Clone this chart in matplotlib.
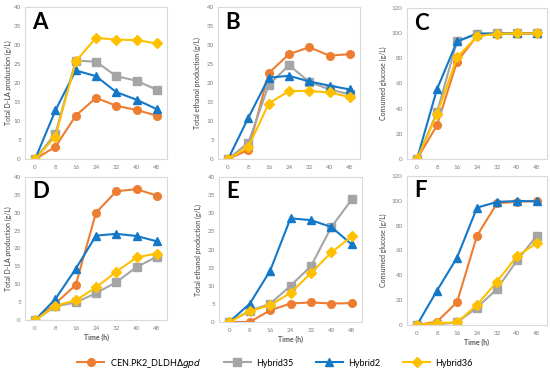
import matplotlib
matplotlib.use("Agg")
import matplotlib.pyplot as plt
import numpy as np

plt.rcParams['font.family'] = ['Lato', 'DejaVu Sans']

# time points (h)
times = [0, 8, 16, 24, 32, 40, 48]
series_names = ['CEN.PK2_DLDH$\\Delta\\mathit{gpd}$', 'Hybrid35', 'Hybrid2', 'Hybrid36']

# panel A - D-LA production
a_cen = [0, 3.2, 11.4, 16.1, 14.0, 12.9, 11.4]
a_h35 = [0, 6.7, 25.9, 25.6, 21.8, 20.6, 18.2]
a_h2 = [0, 12.8, 23.3, 21.8, 17.6, 15.6, 13.1]
a_h36 = [0, 5.9, 25.7, 31.9, 31.4, 31.3, 30.4]

# panel B - ethanol production
b_cen = [0, 2.4, 22.6, 27.6, 29.4, 27.2, 27.6]
b_h35 = [0, 4.3, 19.5, 24.7, 20.3, 18.3, 17.0]
b_h2 = [0, 10.9, 21.4, 21.9, 20.4, 19.3, 18.3]
b_h36 = [0, 3.2, 14.6, 17.9, 17.9, 17.5, 16.3]

# panel C - consumed glucose
c_cen = [0, 26.8, 77.3, 97.8, 99.6, 99.8, 99.8]
c_h35 = [0, 37.2, 93.4, 99.5, 99.8, 99.9, 99.9]
c_h2 = [0, 55.5, 93.4, 99.6, 99.8, 99.9, 99.9]
c_h36 = [0, 35.6, 80.7, 97.4, 99.6, 99.8, 99.8]

# panel D - D-LA production
d_cen = [0, 4.6, 9.8, 30.0, 36.0, 36.6, 34.8]
d_h35 = [0, 3.8, 4.9, 7.5, 10.6, 14.8, 17.7]
d_h2 = [0, 5.9, 14.3, 23.6, 24.1, 23.5, 22.0]
d_h36 = [0, 4.0, 5.5, 9.1, 13.5, 17.5, 18.6]

# panel E - ethanol production
e_cen = [0, 0, 3.2, 5.1, 5.4, 5.1, 5.2]
e_h35 = [0, 3.1, 5.0, 10.0, 15.4, 26.2, 33.8]
e_h2 = [0, 5.0, 14.1, 28.6, 28.1, 26.2, 21.4]
e_h36 = [0, 3.0, 4.6, 8.0, 13.5, 19.2, 23.6]

# panel F - consumed glucose
f_cen = [0, 2.7, 18.3, 71.9, 98.0, 99.3, 99.9]
f_h35 = [0, 0.5, 2.1, 14.0, 29.0, 52.0, 72.0]
f_h2 = [0, 27.7, 54.2, 94.5, 99.1, 99.9, 99.6]
f_h36 = [0, 1.6, 2.1, 16.1, 34.9, 55.6, 66.0]

colors = ['#ED7D31', '#A5A5A5', '#1478C8', '#FFC000']
markers = ['o', 's', '^', 'D']
msizes = [5.5, 5.5, 5.5, 5]

W, H = 550, 375
fig = plt.figure(figsize=(5.5, 3.75), dpi=100)


def box(l, r, t, b):
    return [l / W, 1 - b / H, (r - l) / W, (b - t) / H]


# letter, position, series, ymax, step, ylabel, has x label, ylabel offset (px)
panels = [
    ('A', box(25, 167, 7, 159), [a_cen, a_h35, a_h2, a_h36], 40, 5, 'Total D-LA production (g/L)', False, 13),
    ('B', box(218, 360, 7, 159), [b_cen, b_h35, b_h2, b_h36], 40, 5, 'Total ethanol production (g/L)', False, 17),
    ('C', box(407, 547, 8, 159), [c_cen, c_h35, c_h2, c_h36], 120, 20, 'Consumed glucose (g/L)', False, 20),
    ('D', box(25, 167, 177, 320), [d_cen, d_h35, d_h2, d_h36], 40, 5, 'Total D-LA production (g/L)', True, 13),
    ('E', box(219, 362, 177, 322), [e_cen, e_h35, e_h2, e_h36], 40, 5, 'Total ethanol production (g/L)', True, 17),
    ('F', box(407, 547, 176, 325), [f_cen, f_h35, f_h2, f_h36], 120, 20, 'Consumed glucose (g/L)', True, 20),
]

idx = np.arange(len(times))
handles = []
for letter, pos, data, ymax, step, ylab, bottom, yoff in panels:
    ax = fig.add_axes(pos)
    hs = []
    for vals, c, m, ms in zip(data, colors, markers, msizes):
        h, = ax.plot(idx, vals, color=c, marker=m, markersize=ms, linewidth=1.5)
        hs.append(h)
    handles = hs
    ax.set_xlim(-0.5, 6.5)
    ax.set_ylim(0, ymax)
    ax.set_xticks(idx)
    ax.set_xticklabels([str(t) for t in times])
    ax.set_yticks(np.arange(0, ymax + 1, step))
    ax.tick_params(axis='y', length=0, labelsize=4.5, colors='#7F7F7F', pad=3)
    ax.tick_params(axis='x', length=0, labelsize=4.5, colors='#7F7F7F', pad=4)
    for s in ax.spines.values():
        s.set_color('#D9D9D9')
        s.set_linewidth(0.8)
    ax.set_ylabel(ylab, fontsize=5, color='#404040')
    ax.yaxis.set_label_coords(-yoff / (pos[2] * W), 0.5)
    if bottom:
        ax.set_xlabel('Time (h)', fontsize=5, color='#595959', fontweight='bold', labelpad=2)
    ax.text(0.05, 0.97, letter, transform=ax.transAxes, fontsize=16, fontweight='bold',
            va='top', ha='left', color='black')

fig.legend(handles, series_names, loc='center', bbox_to_anchor=(0.5, 1 - 363 / H),
           ncol=4, frameon=False, fontsize=6.5, handlelength=3, columnspacing=2.5,
           handletextpad=0.6)

fig.savefig('out.png', dpi=100)
